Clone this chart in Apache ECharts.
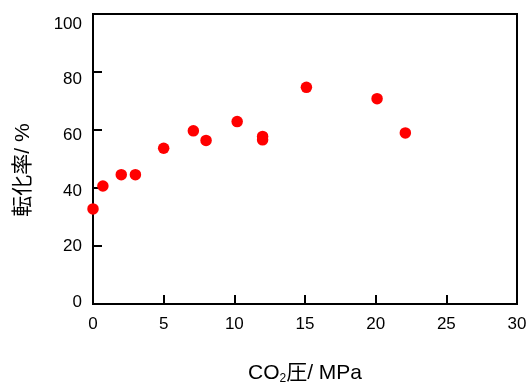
<!DOCTYPE html>
<html><head><meta charset="utf-8">
<script src="https://cdn.jsdelivr.net/npm/echarts@6/dist/echarts.min.js"></script>
<style>html,body{margin:0;padding:0;background:#fff}#c{width:531px;height:383px}</style>
</head><body><div id="c"></div>
<script>
const pressure = [0, 0.7, 2, 3, 5, 7.1, 8, 10.2, 12, 12, 15.1, 20.1, 22.1];
const conversion = [32.8, 40.7, 44.6, 44.6, 53.7, 59.7, 56.4, 62.9, 56.6, 57.8, 74.7, 70.8, 59.0];
const xTicks = [0, 5, 10, 15, 20, 25, 30];
const yTicks = [0, 20, 40, 60, 80, 100];
const xTitle = 'CO{sub|2}圧/ MPa';
const yTitle = '転化率/ %';

const font = '"Liberation Sans", Arial, "Noto Sans CJK JP", sans-serif';
const chart = echarts.init(document.getElementById('c'));
chart.setOption({
  animation: false,
  grid: { left: 93, right: 14, top: 14, bottom: 79, outerBoundsMode: 'none', containLabel: false,
    show: true, borderColor: '#000', borderWidth: 2, backgroundColor: 'transparent' },
  xAxis: {
    type: 'value', min: xTicks[0], max: xTicks[xTicks.length - 1], interval: 5,
    splitLine: { show: false },
    axisLine: { lineStyle: { color: '#000', width: 2 } },
    axisTick: { inside: true, length: 9, lineStyle: { color: '#000', width: 2 } },
    axisLabel: { color: '#000', fontSize: 17, fontFamily: font, margin: 12 },
    name: xTitle, nameLocation: 'middle', nameGap: 58,
    nameTextStyle: { color: '#000', fontSize: 21, fontFamily: font,
      rich: { sub: { fontSize: 12, fontFamily: font, color: '#000', padding: [11, 0, 0, 0] } } }
  },
  yAxis: [{
    type: 'value', min: yTicks[0], max: yTicks[yTicks.length - 1], interval: 20,
    splitLine: { show: false },
    axisLine: { lineStyle: { color: '#000', width: 2 } },
    axisTick: { inside: true, length: 9, lineStyle: { color: '#000', width: 2 } },
    axisLabel: { show: false },
    name: yTitle, nameLocation: 'middle', nameGap: 59,
    nameTextStyle: { color: '#000', fontSize: 21, fontFamily: font, padding: [0, 22, 0, 0] }
  }, {
    // label-only axis: the reference's tick labels sit on a slightly compressed scale
    type: 'value', position: 'left', min: -0.6, max: 103.6,
    splitLine: { show: false },
    axisLine: { show: false },
    axisTick: { show: false },
    axisLabel: { color: '#000', fontSize: 17, fontFamily: font, margin: 11, customValues: yTicks }
  }],
  series: [{
    type: 'scatter', symbol: 'circle', symbolSize: 11.5,
    itemStyle: { color: '#ff0000', opacity: 1 },
    data: pressure.map((p, i) => [p, conversion[i]])
  }]
});
</script></body></html>
